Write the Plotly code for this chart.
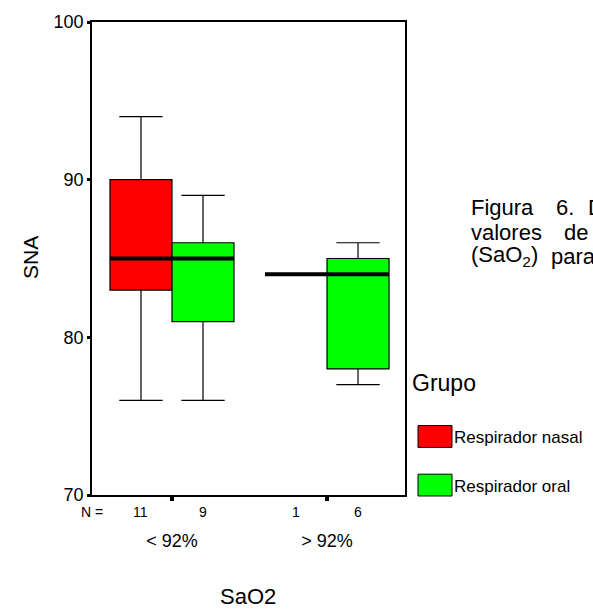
import plotly.graph_objects as go

# ---- data ----
categories = ["< 92%", "> 92%"]
groups = ["Respirador nasal", "Respirador oral"]
colors = ["#ff0000", "#00ff00"]
# per group: values for each category
q1 = [[83, 84], [81, 78]]
median = [[85, 84], [85, 84]]
q3 = [[90, 84], [86, 85]]
lower = [[76, 84], [76, 77]]
upper = [[94, 84], [89, 86]]
counts = [[11, 1], [9, 6]]
y_ticks = [70, 80, 90, 100]

W, H = 593, 613
L, R, T, B = 92, 405, 18, 495
FONT = "Liberation Sans, Arial, sans-serif"


def px(x):
    return (x - L) / (R - L)


def py(y):
    return (B - y) / (B - T)


def txt(x, y, text, size, xanchor="center", xref="paper", angle=0):
    return dict(x=x, y=py(y), xref=xref, yref="paper", text=text,
                xanchor=xanchor, yanchor="middle", textangle=angle,
                showarrow=False, font=dict(size=size, color="black", family=FONT))


xpos = list(range(len(categories)))
ngroups = len(groups)
group_w = 0.8 / ngroups
offsets = [(-0.4 + group_w * (g + 0.5)) for g in range(ngroups)]

fig = go.Figure()
for g in range(ngroups):
    fig.add_trace(go.Box(
        x=xpos, q1=q1[g], median=median[g], q3=q3[g],
        lowerfence=lower[g], upperfence=upper[g],
        name=groups[g], fillcolor=colors[g],
        line=dict(color="black", width=1.2),
        whiskerwidth=0.7, boxpoints=False, showlegend=False,
        hoverinfo="skip",
    ))

# thick median lines
mx, my = [], []
for g in range(ngroups):
    for i, c in enumerate(xpos):
        cx = c + offsets[g]
        mx += [cx - group_w / 2, cx + group_w / 2, None]
        my += [median[g][i], median[g][i], None]
fig.add_trace(go.Scatter(x=mx, y=my, mode="lines",
                         line=dict(color="black", width=4),
                         showlegend=False, hoverinfo="skip"))

annotations = []
# N row
annotations.append(txt(px(92), 512, "N =", 14))
for g in range(ngroups):
    for i, c in enumerate(xpos):
        annotations.append(txt(c + offsets[g], 512, str(counts[g][i]), 14, xref="x"))
# axis titles
annotations.append(txt(px(30), 256, "SNA", 21, angle=-90))
annotations.append(txt(px(248), 597, "SaO2", 22))
# legend
annotations.append(txt(px(410), 382, "Grupo", 23, xanchor="left"))
shapes = []
leg_y = [436, 485]
for g in range(ngroups):
    shapes.append(dict(type="rect", xref="paper", yref="paper",
                       x0=px(418), x1=px(452), y0=py(leg_y[g] - 11), y1=py(leg_y[g] + 11),
                       fillcolor=colors[g], line=dict(color="black", width=1)))
    annotations.append(txt(px(452), leg_y[g] + 1, groups[g], 17, xanchor="left"))
# caption text (justified, cut off at right edge)
annotations.append(txt(px(469), 205, "Figura", 22, xanchor="left"))
annotations.append(txt(px(554), 205, "6.", 22, xanchor="left"))
annotations.append(txt(px(586), 205, "D", 22, xanchor="left"))
annotations.append(txt(px(469), 230, "valores", 22, xanchor="left"))
annotations.append(txt(px(562), 230, "de", 22, xanchor="left"))
annotations.append(txt(px(469), 254, "(SaO<sub>2</sub>)", 22, xanchor="left"))
annotations.append(txt(px(549), 254, "para", 22, xanchor="left"))

fig.update_layout(
    width=W, height=H,
    margin=dict(l=L, r=W - R, t=T, b=H - B),
    paper_bgcolor="white", plot_bgcolor="white",
    boxmode="group", boxgap=0.2, boxgroupgap=0,
    font=dict(family=FONT, color="black"),
    annotations=annotations, shapes=shapes,
    xaxis=dict(range=[-0.516, 1.503], tickvals=xpos, ticktext=categories,
               showline=True, mirror=True, linecolor="black", linewidth=1.5,
               ticks="outside", ticklen=4, tickwidth=4, tickcolor="black",
               ticklabelstandoff=25, tickfont=dict(size=18, family=FONT),
               showgrid=False, zeroline=False),
    yaxis=dict(range=[70, 100], tickvals=y_ticks,
               showline=True, mirror=True, linecolor="black", linewidth=1.5,
               ticks="outside", ticklen=3, tickwidth=3, tickcolor="black",
               tickfont=dict(size=18, family=FONT),
               showgrid=False, zeroline=False),
)

fig.write_html("out.html")
